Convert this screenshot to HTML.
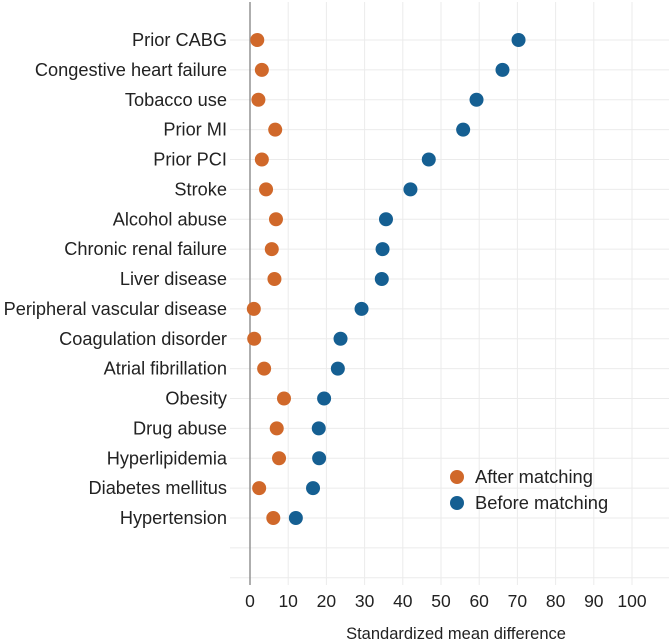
<!DOCTYPE html>
<html><head><meta charset="utf-8"><style>
html,body{margin:0;padding:0;background:#fff;}
svg{display:block;font-family:"Liberation Sans",sans-serif;}
</style></head><body>
<svg id="chart" width="669" height="641" viewBox="0 0 669 641" xmlns="http://www.w3.org/2000/svg">
<g id="grid"></g>
<g id="ylabels"></g>
<g id="xticks"></g>
<line x1="250" y1="2" x2="250" y2="585" stroke="#999" stroke-width="1.6"/>
<g id="dots"></g>
<text x="456" y="639" text-anchor="middle" font-size="16.5" fill="#222">Standardized mean difference</text>
<g>
<g><circle cx="457" cy="477" r="7" fill="#d0682a"/><text x="475" y="483" font-size="18.3" fill="#222">After matching</text></g>
<g><circle cx="457" cy="503" r="7" fill="#155f92"/><text x="475" y="509" font-size="18.3" fill="#222">Before matching</text></g>
</g>
</svg>
<script>
const categories=["Prior CABG","Congestive heart failure","Tobacco use","Prior MI","Prior PCI","Stroke","Alcohol abuse","Chronic renal failure","Liver disease","Peripheral vascular disease","Coagulation disorder","Atrial fibrillation","Obesity","Drug abuse","Hyperlipidemia","Diabetes mellitus","Hypertension"];
const afterValues=[1.9,3.1,2.2,6.6,3.1,4.2,6.8,5.7,6.4,1.0,1.1,3.7,8.9,7.0,7.6,2.4,6.1];
const beforeValues=[70.3,66.1,59.3,55.8,46.8,42.0,35.6,34.7,34.5,29.2,23.7,23.0,19.4,18.0,18.1,16.5,12.0];
const xTicks=[0,10,20,30,40,50,60,70,80,90,100];
const NS="http://www.w3.org/2000/svg";
const x=v=>250+v*3.82;
const y=i=>40+i*29.875;
function mk(tag,attrs,parent){const e=document.createElementNS(NS,tag);for(const k in attrs)e.setAttribute(k,attrs[k]);parent.appendChild(e);return e;}
const grid=document.getElementById('grid'),yl=document.getElementById('ylabels'),xt=document.getElementById('xticks'),dots=document.getElementById('dots');
for(let v=10;v<=110;v+=10){const l=mk('line',{x1:x(v),x2:x(v),y1:2,y2:585,stroke:'#ebebeb','stroke-width':1},grid);

}
for(let i=0;i<categories.length+2;i++){const l=mk('line',{x1:230,x2:669,y1:y(i),y2:y(i),stroke:'#ebebeb','stroke-width':1},grid);

}
categories.forEach((c,i)=>{const t=mk('text',{x:227,y:y(i)+6,'text-anchor':'end','font-size':'18.2',fill:'#222'},yl);t.textContent=c;

});
xTicks.forEach(v=>{const t=mk('text',{x:x(v),y:607,'text-anchor':'middle','font-size':'17.5',fill:'#222'},xt);t.textContent=v;

});
categories.forEach((c,i)=>{
const a=mk('circle',{cx:x(afterValues[i]),cy:y(i),r:7,fill:'#d0682a'},dots);


const b=mk('circle',{cx:x(beforeValues[i]),cy:y(i),r:7,fill:'#155f92'},dots);


});
</script>
</body></html>
